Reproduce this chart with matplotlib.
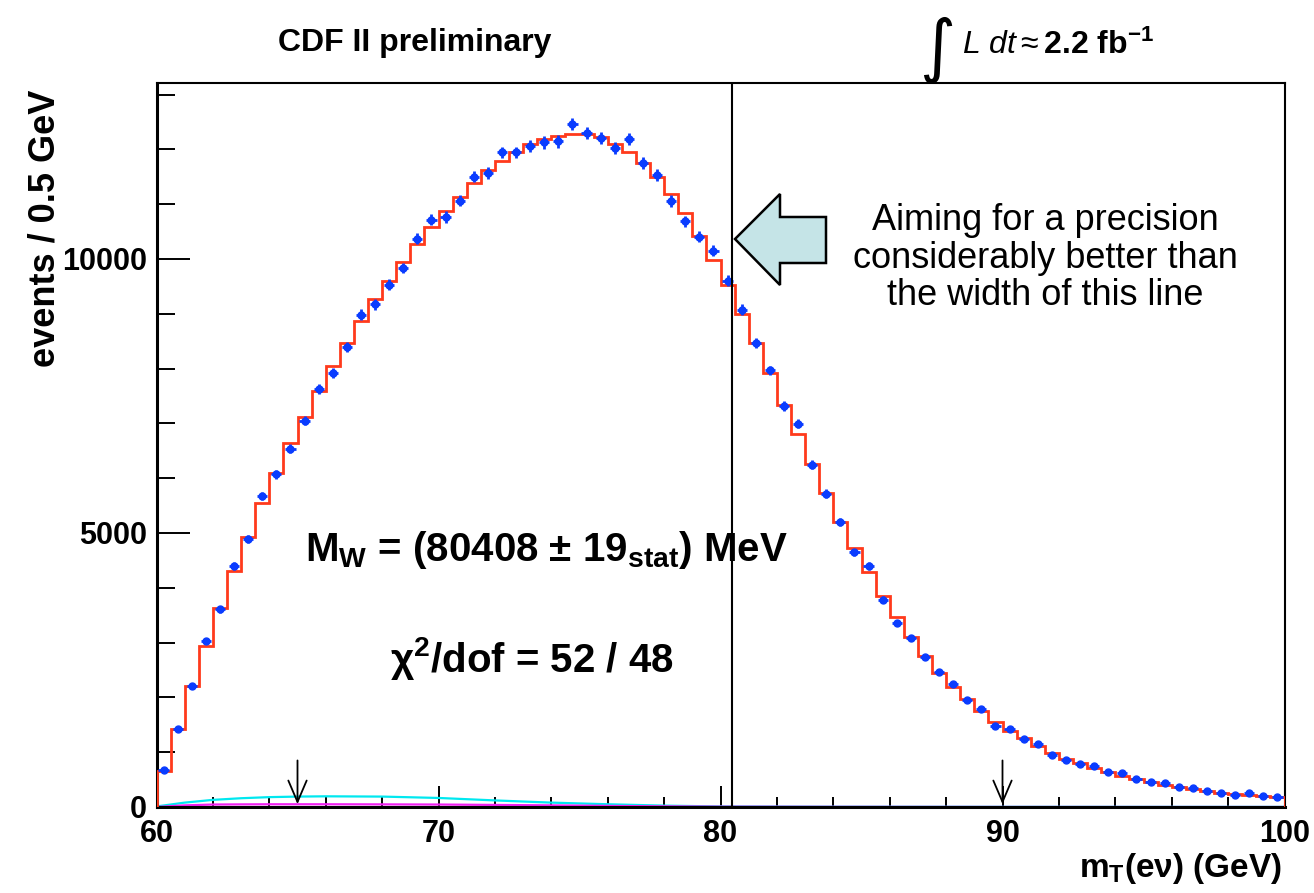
import numpy as np
import matplotlib.pyplot as plt
from matplotlib.patches import Polygon
from matplotlib.ticker import MultipleLocator

plt.rcParams['font.family'] = ['Liberation Sans', 'DejaVu Sans']
plt.rcParams['mathtext.fontset'] = 'custom'
plt.rcParams['mathtext.rm'] = 'Liberation Sans'
plt.rcParams['mathtext.it'] = 'Liberation Sans:italic'
plt.rcParams['mathtext.bf'] = 'Liberation Sans:bold'

# binning of the transverse mass histogram
mt_lo, mt_hi, bin_w = 60.0, 100.0, 0.5

# data, events per 0.5 GeV bin (60 -> 100 GeV)
data_counts = [675, 1422, 2208, 3032, 3604, 4396, 4896, 5675, 6071, 6539,
               7050, 7630, 7925, 8390, 8985, 9170, 9530, 9835, 10372, 10714,
               10763, 11066, 11504, 11565, 11942, 11942, 12052, 12125, 12143, 12466,
               12296, 12204, 12022, 12186, 11748, 11535, 11060, 10683, 10409, 10153,
               9600, 9075, 8462, 7965, 7320, 6995, 6245, 5720, 5205, 4648,
               4398, 3786, 3358, 3086, 2730, 2462, 2240, 1944, 1787, 1486,
               1415, 1235, 1144, 949, 858, 779, 754, 645, 615, 511,
               450, 444, 359, 341, 298, 261, 219, 250, 206, 183]

# best fit template
fit_counts = [662, 1422, 2208, 2935, 3630, 4299, 4929, 5539, 6097, 6635,
              7120, 7595, 8055, 8475, 8865, 9263, 9605, 9938, 10276, 10586,
              10870, 11121, 11382, 11620, 11795, 11955, 12103, 12195, 12243, 12282,
              12271, 12216, 12106, 11960, 11748, 11491, 11186, 10847, 10427, 9983,
              9520, 8999, 8462, 7919, 7343, 6806, 6250, 5726, 5203, 4732,
              4287, 3848, 3469, 3109, 2749, 2454, 2192, 1963, 1747, 1545,
              1390, 1253, 1119, 991, 882, 797, 718, 633, 571, 505,
              450, 401, 359, 323, 286, 256, 232, 214, 195, 177]

# backgrounds
bkg_mt = [60, 61, 62, 63, 64, 65, 66, 68, 70, 72, 74, 76, 78, 80, 84, 90, 100]
bkg_cyan = [10, 80, 130, 160, 180, 190, 195, 190, 165, 120, 80, 50, 25, 10, 5, 3, 2]
bkg_magenta = [0, 30, 45, 48, 50, 50, 50, 48, 45, 38, 30, 20, 12, 6, 3, 1, 0]

fit_window = [65, 90]
mw_fit = 80.408

edges = np.arange(mt_lo, mt_hi + bin_w / 2, bin_w)
centers = edges[:-1] + bin_w / 2
data = np.array(data_counts)

W, H = 1314, 893
fig = plt.figure(figsize=(W / 100, H / 100), dpi=100)
ax = fig.add_axes([156.5 / W, 1 - 807 / H, 1128 / W, 724 / H])


def fx(px):
    return px / W


def fy(py):
    return 1 - py / H


ax.plot(bkg_mt, bkg_cyan, color='#00e8f0', lw=1.6, zorder=2)
ax.plot(bkg_mt, bkg_magenta, color='#f020f0', lw=1.6, zorder=2)

ax.stairs(fit_counts, edges, color='#ff3a1c', lw=2.0, zorder=3)
ax.errorbar(centers, data, xerr=0.18, yerr=np.sqrt(data), fmt='o', ms=5,
            color='#0a3cff', ecolor='#0a3cff', elinewidth=2.0, capsize=0, zorder=4)

ax.axvline(mw_fit, color='black', lw=1.5, zorder=5)

for x in fit_window:
    ax.annotate('', xy=(x, 0), xytext=(x, 900),
                arrowprops=dict(arrowstyle='->,head_length=0.7,head_width=0.3',
                                color='black', lw=1.3, mutation_scale=22))

ax.set_xlim(mt_lo, mt_hi)
ax.set_ylim(0, 13210)
ax.set_yticks([0, 5000, 10000])
ax.yaxis.set_minor_locator(MultipleLocator(1000))
ax.xaxis.set_major_locator(MultipleLocator(10))
ax.xaxis.set_minor_locator(MultipleLocator(2))
ax.tick_params(axis='y', which='major', direction='in', length=24, width=1.4, pad=7)
ax.tick_params(axis='y', which='minor', direction='in', length=13, width=1.4)
ax.tick_params(axis='x', which='major', direction='in', length=15, width=1.4, pad=9)
ax.tick_params(axis='x', which='minor', direction='in', length=7, width=1.4)
for lab in ax.get_xticklabels() + ax.get_yticklabels():
    lab.set_fontsize(22)
    lab.set_fontweight('bold')
for s in ax.spines.values():
    s.set_linewidth(1.5)
ax.spines['left'].set_linewidth(2.2)
ax.spines['bottom'].set_linewidth(2.2)

fig.text(fx(45), fy(228), 'events / 0.5 GeV', rotation=90, fontsize=26,
         fontweight='bold', ha='center', va='center')
fig.text(fx(1282), fy(868), r'm$_\mathbf{T}$(e$\mathbf{\nu}$) (GeV)', fontsize=24,
         fontweight='bold', ha='right', va='center')

fig.text(fx(415), fy(43), 'CDF II preliminary', fontsize=23, fontweight='bold',
         ha='center', va='center')
fig.text(fx(955), fy(50), '\u222b', fontsize=50, ha='right', va='center',
         family=['DejaVu Sans'])
fig.text(fx(962), fy(45), r'$\mathit{L\ dt}\approx\mathbf{2.2\ fb^{-1}}$',
         fontsize=23, ha='left', va='center')

fig.text(fx(305), fy(550), r'M$_\mathbf{W}$ = (80408 $\mathbf{\pm}$ 19$_\mathbf{stat}$) MeV',
         fontsize=29, fontweight='bold', ha='left', va='center')
fig.text(fx(390), fy(658), r'$\mathbf{\chi}^\mathbf{2}$/dof = 52 / 48',
         fontsize=29, fontweight='bold', ha='left', va='center')

fig.text(fx(1045), fy(258), 'Aiming for a precision\nconsiderably better than\nthe width of this line',
         fontsize=26, ha='center', va='center', linespacing=1.1)

arrow_px = [(735, 239), (780, 194), (780, 217), (826, 217),
            (826, 263), (780, 263), (780, 285)]
fig.patches.append(Polygon([(fx(x), fy(y)) for x, y in arrow_px], closed=True,
                           transform=fig.transFigure, facecolor='#c5e4e7',
                           edgecolor='black', lw=1.8, zorder=10))

fig.savefig('out.png', dpi=100)
